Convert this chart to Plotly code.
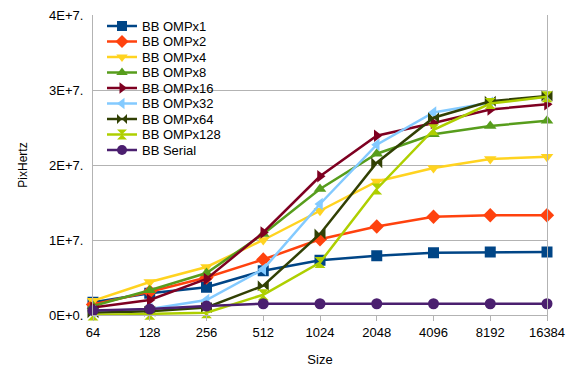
import plotly.graph_objects as go

sizes = ["64", "128", "256", "512", "1024", "2048", "4096", "8192", "16384"]

omp1 = [0.17e7, 0.29e7, 0.37e7, 0.59e7, 0.73e7, 0.79e7, 0.83e7, 0.84e7, 0.84e7]
omp2 = [0.14e7, 0.31e7, 0.50e7, 0.74e7, 1.01e7, 1.18e7, 1.31e7, 1.33e7, 1.33e7]
omp4 = [0.19e7, 0.44e7, 0.64e7, 1.00e7, 1.39e7, 1.78e7, 1.96e7, 2.08e7, 2.11e7]
omp8 = [0.12e7, 0.33e7, 0.56e7, 1.08e7, 1.68e7, 2.15e7, 2.41e7, 2.52e7, 2.59e7]
omp16 = [0.10e7, 0.20e7, 0.48e7, 1.10e7, 1.85e7, 2.39e7, 2.56e7, 2.74e7, 2.81e7]
omp32 = [0.05e7, 0.08e7, 0.20e7, 0.61e7, 1.48e7, 2.27e7, 2.70e7, 2.83e7, 2.91e7]
omp64 = [0.03e7, 0.05e7, 0.10e7, 0.39e7, 1.08e7, 2.03e7, 2.63e7, 2.85e7, 2.92e7]
omp128 = [0.00e7, 0.01e7, 0.03e7, 0.27e7, 0.70e7, 1.68e7, 2.47e7, 2.82e7, 2.91e7]
serial = [0.06e7, 0.08e7, 0.12e7, 0.15e7, 0.15e7, 0.15e7, 0.15e7, 0.15e7, 0.15e7]

y_tickvals = [0, 1e7, 2e7, 3e7, 4e7]
y_ticktext = ["0E+0.", "1E+7.", "2E+7.", "3E+7.", "4E+7."]

series_names = ["BB OMPx1", "BB OMPx2", "BB OMPx4", "BB OMPx8", "BB OMPx16",
                "BB OMPx32", "BB OMPx64", "BB OMPx128", "BB Serial"]
series_values = [omp1, omp2, omp4, omp8, omp16, omp32, omp64, omp128, serial]
colors = ["#004586", "#ff420e", "#ffd320", "#579d1c", "#7e0021",
          "#83caff", "#314004", "#aecf00", "#4b1f6f"]
symbols = ["square", "diamond", "triangle-down", "triangle-up", "triangle-right",
           "triangle-left", "bowtie", "hourglass", "circle"]

font = "Liberation Sans, Arial, sans-serif"

# plot area in pixels
L, R, T, B = 93, 547, 15, 315

fig = go.Figure()
for name, vals, color, sym in zip(series_names, series_values, colors, symbols):
    fig.add_trace(go.Scatter(
        x=sizes, y=vals, name=name, mode="lines+markers",
        line=dict(color=color, width=2.5),
        marker=dict(color=color, symbol=sym, size=11, line=dict(width=0)),
        cliponaxis=False, showlegend=False,
    ))

# compact legend drawn on an overlay pixel axis
leg_x0, leg_x1, leg_y0, leg_dy = 107, 137, 26, 15.5
for i, (name, color, sym) in enumerate(zip(series_names, colors, symbols)):
    yy = leg_y0 + i * leg_dy
    fig.add_trace(go.Scatter(
        x=[leg_x0, leg_x1], y=[yy, yy], xaxis="x2", yaxis="y2",
        mode="lines", line=dict(color=color, width=2.5),
        showlegend=False, hoverinfo="skip", cliponaxis=False,
    ))
    fig.add_trace(go.Scatter(
        x=[(leg_x0 + leg_x1) / 2], y=[yy], xaxis="x2", yaxis="y2",
        mode="markers", marker=dict(color=color, symbol=sym, size=10, line=dict(width=0)),
        showlegend=False, hoverinfo="skip", cliponaxis=False,
    ))
    fig.add_annotation(
        x=leg_x1 + 3, y=yy, xref="x2", yref="y2", text=name, showarrow=False,
        xanchor="left", yanchor="middle", font=dict(size=13, family=font, color="#000000"),
    )

fig.update_layout(
    width=576, height=384,
    margin=dict(l=L, r=576 - R, t=T, b=384 - B),
    paper_bgcolor="white", plot_bgcolor="white",
    font=dict(family=font, size=13, color="#000000"),
    showlegend=False,
    xaxis=dict(
        type="category", range=[0, 8], showgrid=False, automargin=False,
        showline=True, linecolor="#b3b3b3", linewidth=1,
        ticks="outside", ticklen=5, tickcolor="#b3b3b3",
        title=dict(text="Size", font=dict(size=13), standoff=16),
        tickfont=dict(size=13),
    ),
    yaxis=dict(
        range=[0, 4e7], tickvals=y_tickvals, ticktext=y_ticktext, automargin=False,
        showgrid=True, gridcolor="#b3b3b3", gridwidth=1,
        showline=True, linecolor="#b3b3b3", linewidth=1, mirror=True,
        ticks="", zeroline=False, ticklabelstandoff=6,
        title=dict(text="PixHertz", font=dict(size=12), standoff=18),
        tickfont=dict(size=13),
    ),
    xaxis2=dict(range=[L, R], overlaying="x", visible=False, fixedrange=True),
    yaxis2=dict(range=[B, T], overlaying="y", visible=False, fixedrange=True),
)

fig.write_html("out.html", config={"displayModeBar": False},
               post_script="document.body.style.margin='0';")
